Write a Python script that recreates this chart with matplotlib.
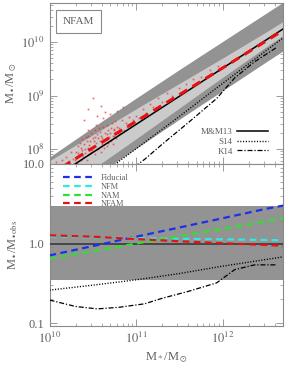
import numpy as np
import matplotlib.pyplot as plt
from matplotlib.ticker import FixedLocator, FixedFormatter, LogLocator, NullFormatter

plt.rcParams['font.family'] = ['Liberation Serif', 'DejaVu Serif']
plt.rcParams['mathtext.fontset'] = 'stix'

# log10(M*/Msun) nodes used by the model curves
logMs = [10.0, 10.5, 11.0, 11.5, 12.0, 12.5, 12.7]

# M&M13 relation: log Mbh = a + b (log M* - 11)
mm13_a = 8.46
mm13_b = 1.05

# band half-widths around M&M13 (dex)
dark_up = [0.44, 0.47, 0.49, 0.50, 0.50, 0.50, 0.50]
dark_lo = [-0.45, -0.46, -0.45, -0.43, -0.42, -0.41, -0.41]
light_up = [0.37, 0.33, 0.29, 0.24, 0.19, 0.15, 0.14]
light_lo = [-0.35, -0.31, -0.27, -0.22, -0.17, -0.13, -0.12]

# model / observed ratios (bottom panel)
ratio_fiducial = [0.71, 0.93, 1.22, 1.59, 2.08, 2.73, 3.00]
ratio_nfm = [1.23, 1.20, 1.17, 1.15, 1.13, 1.11, 1.10]
ratio_nam = [0.65, 0.80, 1.00, 1.24, 1.53, 1.90, 2.09]
ratio_nfam = [1.27, 1.22, 1.14, 1.07, 1.01, 0.96, 0.94]
ratio_s14 = [0.26, 0.30, 0.35, 0.42, 0.52, 0.63, 0.68]

logMs_k14 = [10.0, 10.3, 10.55, 10.8, 11.1, 11.3, 11.6, 11.93, 12.14, 12.37, 12.63]
ratio_k14 = [0.195, 0.162, 0.151, 0.158, 0.175, 0.205, 0.25, 0.32, 0.47, 0.54, 0.54]

# NFAM model galaxies (log M*, log Mbh)
pts_logMs = [10.30, 10.31, 10.32, 10.33, 10.34, 10.35, 10.36, 10.37, 10.38, 10.39,
             10.40, 10.41, 10.42, 10.43, 10.44, 10.45, 10.46, 10.47, 10.48, 10.49,
             10.50, 10.51, 10.52, 10.53, 10.54, 10.55, 10.56, 10.57, 10.58, 10.59,
             10.60, 10.61, 10.62, 10.63, 10.64, 10.65, 10.66, 10.67, 10.68, 10.69,
             10.70, 10.71, 10.72, 10.73, 10.74, 10.75, 10.76, 10.77, 10.78, 10.79,
             10.80, 10.82, 10.84, 10.86, 10.88, 10.90, 10.92, 10.94, 10.96, 10.98,
             10.33, 10.36, 10.38, 10.41, 10.43, 10.46, 10.48, 10.51, 10.53, 10.56,
             10.58, 10.61, 10.63, 10.66, 10.68, 10.71, 10.73, 10.75, 10.44, 10.54,
             10.44, 10.50, 10.55, 10.59, 10.64, 10.70, 10.78, 10.85, 10.40, 10.62,
             10.08, 10.14, 10.19, 10.22, 10.25, 10.27,
             11.00, 11.04, 11.08, 11.12, 11.16, 11.20, 11.25, 11.30, 11.36, 11.42,
             11.50, 11.58, 11.66, 11.75, 11.85, 11.95]
pts_logMbh = [7.80, 7.95, 7.74, 8.05, 7.88, 8.12, 7.80, 7.98, 8.18, 7.85,
              8.10, 7.92, 8.22, 7.80, 8.02, 8.25, 7.90, 8.15, 8.30, 7.98,
              8.20, 8.05, 8.35, 7.90, 8.12, 8.28, 8.00, 8.40, 8.15, 7.95,
              8.25, 8.10, 8.42, 8.02, 8.30, 8.18, 8.45, 8.05, 8.35, 8.22,
              8.30, 8.15, 8.48, 8.10, 8.38, 8.25, 8.52, 8.20, 8.42, 8.30,
              8.40, 8.30, 8.55, 8.35, 8.48, 8.42, 8.60, 8.45, 8.55, 8.50,
              7.92, 8.02, 7.88, 8.00, 8.15, 8.08, 7.95, 8.15, 8.22, 8.20,
              8.32, 8.20, 8.15, 8.28, 8.12, 8.40, 8.25, 8.35, 8.35, 8.45,
              8.75, 8.95, 8.62, 8.80, 8.70, 8.65, 8.72, 8.78, 8.55, 8.58,
              7.76, 7.80, 7.85, 7.78, 7.95, 7.82,
              8.62, 8.58, 8.75, 8.68, 8.85, 8.78, 8.95, 8.88, 9.05, 9.00,
              9.15, 9.22, 9.30, 9.35, 9.48, 9.55]

fig = plt.figure(figsize=(2.99, 3.74), dpi=100)
ax1 = fig.add_axes([0.1656, 0.5615, 0.781, 0.4305])
ax2 = fig.add_axes([0.1656, 0.1283, 0.781, 0.4332])

grey_txt = '#606060'
spine_c = '#8a8a8a'

lm = np.array(logMs)
ms = 10 ** lm
mm13 = mm13_a + mm13_b * (lm - 11)

# ---- top panel
ax1.fill_between(ms, 10 ** (mm13 + np.array(dark_lo)), 10 ** (mm13 + np.array(dark_up)),
                 color='#939393', lw=0, zorder=1)
ax1.fill_between(ms, 10 ** (mm13 + np.array(light_lo)), 10 ** (mm13 + np.array(light_up)),
                 color='#cbcbcb', lw=0, zorder=2)
ax1.plot(10 ** np.array(pts_logMs), 10 ** np.array(pts_logMbh), 's', ms=1.2,
         color='#f02a2a', alpha=0.7, mec='none', zorder=3)
l_mm, = ax1.plot(ms, 10 ** mm13, color='black', lw=1.1, zorder=5)
ax1.plot(ms, 10 ** mm13 * np.array(ratio_nfam), color='#e81010', lw=2.2,
         dashes=(3.0, 2.0), zorder=6)
l_s14, = ax1.plot(ms, 10 ** mm13 * np.array(ratio_s14), color='black', lw=1.0,
                  ls=(0, (0.8, 1.2)), zorder=5)
lk = np.array(logMs_k14)
l_k14, = ax1.plot(10 ** lk, 10 ** (mm13_a + mm13_b * (lk - 11)) * np.array(ratio_k14),
                  color='black', lw=0.9, ls=(0, (4, 1.5, 1, 1.5)), zorder=5)

ax1.set_xscale('log')
ax1.set_yscale('log')
ax1.set_xlim(1e10, 5e12)
ax1.set_ylim(10 ** 7.72, 10 ** 10.73)
ax1.set_ylabel(r'M$_\bullet$/M$_\odot$', color=grey_txt, fontsize=9, labelpad=2)
ax1.yaxis.set_major_locator(FixedLocator([1e8, 1e9, 1e10]))
ax1.yaxis.set_major_formatter(FixedFormatter([r'$10^{8}$', r'$10^{9}$', r'$10^{10}$']))
ax1.tick_params(labelbottom=False)
ax1.text(0.125, 0.885, 'NFAM', transform=ax1.transAxes, ha='center', va='center',
         fontsize=8, color=grey_txt,
         bbox=dict(boxstyle='square,pad=0.6', fc='white', ec=spine_c, lw=0.8))
leg1 = ax1.legend([l_mm, l_s14, l_k14], ['M&M13', 'S14', 'K14'], loc='lower right',
                  frameon=False, fontsize=6.5, markerfirst=False, handlelength=3.4,
                  handletextpad=0.5, borderaxespad=0.0, labelspacing=0.15,
                  bbox_to_anchor=(0.951, 0.03))
for t in leg1.get_texts():
    t.set_color(grey_txt)

# ---- bottom panel
ax2.axhspan(10 ** -0.46, 10 ** 0.47, color='#939393', lw=0, zorder=1)
ax2.axhline(1.0, color='#404040', lw=1.3, zorder=3)
ax2.plot(ms, ratio_s14, color='black', lw=1.0, ls=(0, (0.8, 1.2)), zorder=4)
ax2.plot(10 ** lk, ratio_k14, color='black', lw=0.9, ls=(0, (4, 1.5, 1, 1.5)), zorder=4)
h_fid, = ax2.plot(ms, ratio_fiducial, color='#1f2fe8', lw=1.6, dashes=(3, 2), zorder=5)
h_nfm, = ax2.plot(ms, ratio_nfm, color='#30e8e8', lw=1.6, dashes=(3, 2), zorder=5)
h_nam, = ax2.plot(ms, ratio_nam, color='#30e030', lw=1.6, dashes=(3, 2), zorder=5)
h_nfam, = ax2.plot(ms, ratio_nfam, color='#e81010', lw=1.6, dashes=(3, 2), zorder=6)

ax2.set_xscale('log')
ax2.set_yscale('log')
ax2.set_xlim(1e10, 5e12)
ax2.set_ylim(0.092, 10)
ax2.yaxis.set_major_locator(FixedLocator([0.1, 1.0, 10.0]))
ax2.yaxis.set_major_formatter(FixedFormatter(['0.1', '1.0', '10.0']))
ax2.xaxis.set_major_locator(FixedLocator([1e10, 1e11, 1e12]))
ax2.xaxis.set_major_formatter(FixedFormatter([r'$10^{10}$', r'$10^{11}$', r'$10^{12}$']))
ax2.set_xlabel(r'M$_*$/M$_\odot$', color=grey_txt, fontsize=9, labelpad=3)
ax2.set_ylabel(r'M$_\bullet$/M$_{\bullet\,\rm obs}$', color=grey_txt, fontsize=9, labelpad=2)
leg2 = ax2.legend([h_fid, h_nfm, h_nam, h_nfam], ['Fiducial', 'NFM', 'NAM', 'NFAM'],
                  loc='upper left', frameon=False, fontsize=6, handlelength=3.4,
                  handletextpad=1.1, labelspacing=0.1, borderaxespad=0.4,
                  bbox_to_anchor=(0.03, 0.98))
for t in leg2.get_texts():
    t.set_color(grey_txt)

for ax in (ax1, ax2):
    ax.xaxis.set_minor_locator(LogLocator(base=10, subs=np.arange(2, 10)))
    ax.xaxis.set_minor_formatter(NullFormatter())
    ax.yaxis.set_minor_locator(LogLocator(base=10, subs=np.arange(2, 10)))
    ax.yaxis.set_minor_formatter(NullFormatter())
    ax.tick_params(which='both', direction='in', top=True, right=True,
                   colors=spine_c, labelcolor=grey_txt, labelsize=9)
    ax.tick_params(which='major', length=5, width=0.6)
    ax.tick_params(which='minor', length=2.5, width=0.5)
    for s in ax.spines.values():
        s.set_color(spine_c)
        s.set_linewidth(0.8)

fig.savefig('out.png', dpi=100)
